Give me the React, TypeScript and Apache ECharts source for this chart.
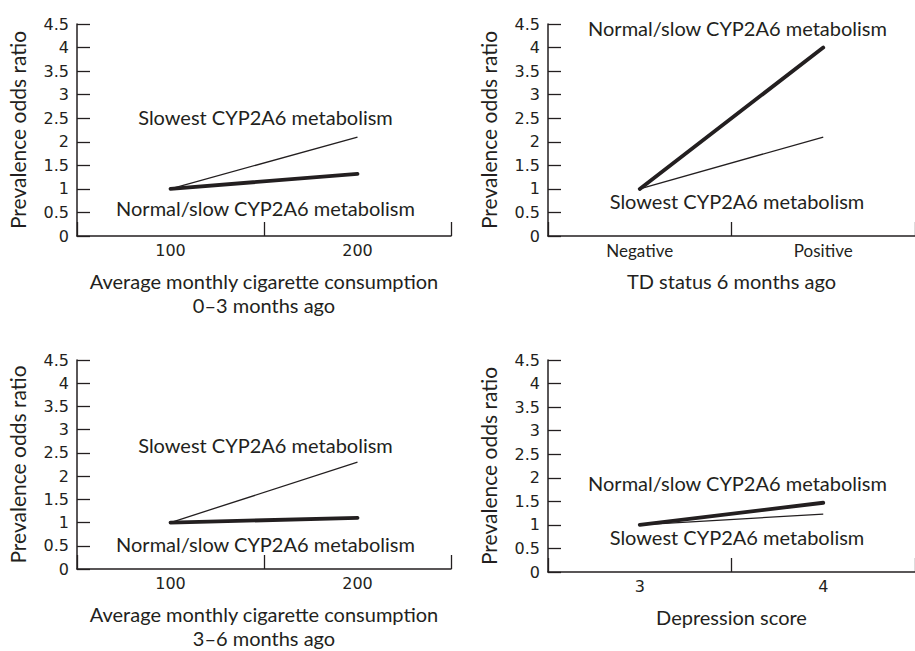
import React, { useEffect, useRef } from "react";
import * as echarts from "echarts";

const yMin = 0;
const yMax = 4.5;
const yInterval = 0.5;

const cats1 = ["100", "200"];
const slowest1 = [1, 2.1];
const normal1 = [1, 1.32];

const cats2 = ["Negative", "Positive"];
const slowest2 = [1, 2.1];
const normal2 = [1, 4.0];

const cats3 = ["100", "200"];
const slowest3 = [1, 2.3];
const normal3 = [1, 1.1];

const cats4 = ["3", "4"];
const slowest4 = [1, 1.23];
const normal4 = [1, 1.47];

const xNames = [
  "Average monthly cigarette consumption\n0\u20133 months ago",
  "TD status 6 months ago",
  "Average monthly cigarette consumption\n3\u20136 months ago",
  "Depression score",
];
const yName = "Prevalence odds ratio";
const slowLabel = "Slowest CYP2A6 metabolism";
const normLabel = "Normal/slow CYP2A6 metabolism";

const INK = "#231f20";
const FONT = "Lato";
const NUMFONT = "DejaVu Sans";

export default function App() {
  const ref = useRef<HTMLDivElement>(null);
  useEffect(() => {
    if (!ref.current) return;
    const chart = echarts.init(ref.current, null, { renderer: "svg" });
    const grids = [
      { left: 77, top: 24, width: 374, height: 212 },
      { left: 548, top: 24, width: 374, height: 212 },
      { left: 77, top: 360, width: 374, height: 212 },
      { left: 548, top: 360, width: 374, height: 212 },
    ];
    const catsAll = [cats1, cats2, cats3, cats4];
    const slowAll = [slowest1, slowest2, slowest3, slowest4];
    const normAll = [normal1, normal2, normal3, normal4];
    const xLabelFont = [NUMFONT, FONT, NUMFONT, NUMFONT];
    const xLabelSize = [16, 17, 16, 16];

    const xAxis = catsAll.map((c, i) => ({
      type: "category",
      gridIndex: i,
      data: c,
      boundaryGap: true,
      axisLine: { show: true, lineStyle: { color: INK, width: 1.5 } },
      axisTick: {
        show: true,
        interval: 0,
        inside: true,
        length: 14,
        lineStyle: { color: INK, width: 1.3 },
      },
      axisLabel: {
        show: true,
        interval: 0,
        color: INK,
        fontSize: xLabelSize[i],
        fontFamily: xLabelFont[i],
        margin: 6,
      },
      splitLine: { show: false },
      name: xNames[i],
      nameLocation: "middle",
      nameGap: 33,
      nameTextStyle: {
        color: INK,
        fontSize: 20,
        fontFamily: FONT,
        lineHeight: 24,
        verticalAlign: "top",
      },
    }));
    const yAxis = catsAll.map((_, i) => ({
      type: "value",
      gridIndex: i,
      min: yMin,
      max: yMax,
      interval: yInterval,
      splitLine: { show: false },
      axisLine: { show: true, lineStyle: { color: INK, width: 1.5 } },
      axisTick: { show: true, inside: true, length: 13, lineStyle: { color: INK, width: 1.3 } },
      axisLabel: { show: true, color: INK, fontSize: 16, fontFamily: NUMFONT, margin: 8 },
      name: yName,
      nameLocation: "middle",
      nameGap: 49,
      nameRotate: 90,
      nameTextStyle: { color: INK, fontSize: 21, fontFamily: FONT },
    }));
    const series: any[] = [];
    for (let i = 0; i < 4; i++) {
      series.push({
        type: "line",
        name: slowLabel,
        xAxisIndex: i,
        yAxisIndex: i,
        data: slowAll[i],
        showSymbol: false,
        symbol: "none",
        lineStyle: { color: INK, width: 1.3 },
        z: 3,
      });
      series.push({
        type: "line",
        name: normLabel,
        xAxisIndex: i,
        yAxisIndex: i,
        data: normAll[i],
        showSymbol: false,
        symbol: "none",
        lineStyle: { color: INK, width: 3.8, cap: "round" },
        z: 4,
      });
    }
    const annot = (text: string, x: number, y: number) => ({
      type: "text",
      x,
      y,
      style: {
        text,
        fill: INK,
        font: `20px ${FONT}`,
        align: "center",
        verticalAlign: "middle",
      },
    });
    chart.setOption({
      animation: false,
      backgroundColor: "#ffffff",
      grid: grids,
      xAxis,
      yAxis,
      series,
      graphic: [
        annot(slowLabel, 265.5, 117),
        annot(normLabel, 265.5, 208),
        annot(normLabel, 737.5, 28),
        annot(slowLabel, 737, 201),
        annot(slowLabel, 265.5, 445),
        annot(normLabel, 265.5, 544),
        annot(normLabel, 737.5, 483),
        annot(slowLabel, 737, 537),
      ],
    });
    return () => chart.dispose();
  }, []);
  return (
    <div
      ref={ref}
      style={{ position: "absolute", left: 0, top: 0, width: 915, height: 651 }}
    />
  );
}
